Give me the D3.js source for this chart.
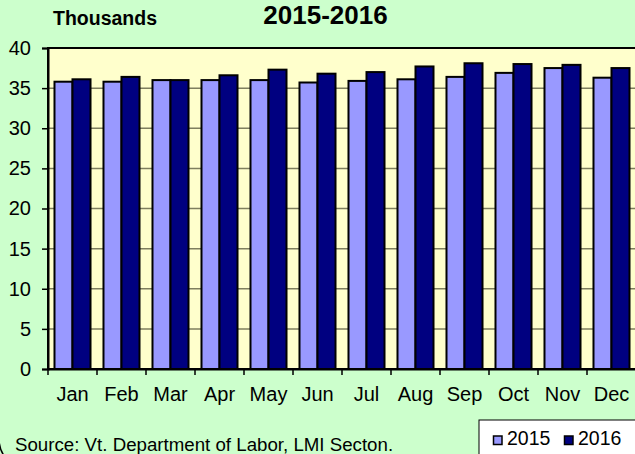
<!DOCTYPE html>
<html>
<head>
<meta charset="utf-8">
<script src="https://cdn.jsdelivr.net/npm/d3@7"></script>
<style>
  body { margin: 0; background: #CCFFCC; }
  svg { display: block; font-family: "Liberation Sans", Arial, sans-serif; }
</style>
</head>
<body>
<div id="chart"></div>
<script>
// data (thousands)
const months = ["Jan", "Feb", "Mar", "Apr", "May", "Jun", "Jul", "Aug", "Sep", "Oct", "Nov", "Dec"];
const years = ["2015", "2016"];
const values2015 = [35.8, 35.8, 36.0, 36.0, 36.0, 35.7, 35.9, 36.1, 36.4, 36.9, 37.5, 36.3];
const values2016 = [36.1, 36.4, 36.0, 36.6, 37.3, 36.8, 37.0, 37.7, 38.1, 38.0, 37.9, 37.5];
const yTicks = [0, 5, 10, 15, 20, 25, 30, 35, 40];
const colors = {"2015": "#9999FF", "2016": "#000080"};

const width = 635, height = 454;
const plot = {left: 48, top: 48, right: 636, bottom: 369};
const fontFamily = "Liberation Sans, Arial, sans-serif";

const svg = d3.select("#chart").append("svg")
    .attr("width", width)
    .attr("height", height);

svg.append("rect")
    .attr("width", width).attr("height", height)
    .attr("fill", "#CCFFCC");

// rounded frame corner peeking in at bottom left
svg.append("rect")
    .attr("x", -1).attr("y", -50)
    .attr("width", width + 50).attr("height", 519)
    .attr("rx", 30)
    .attr("fill", "none")
    .attr("stroke", "#000").attr("stroke-width", 1.5);

const x = d3.scaleBand()
    .domain(months)
    .range([plot.left, plot.right])
    .paddingInner(0.265)
    .paddingOuter(0.1325);

const xSub = d3.scaleBand()
    .domain(years)
    .range([0, x.bandwidth()]);

const y = d3.scaleLinear()
    .domain([0, 40])
    .range([plot.bottom, plot.top]);

// plot background
svg.append("rect")
    .attr("x", plot.left).attr("y", plot.top)
    .attr("width", plot.right - plot.left)
    .attr("height", plot.bottom - plot.top)
    .attr("fill", "#FFFFCC")
    .attr("stroke", "#000")
    .attr("stroke-width", 2);

// gridlines
svg.append("g")
    .selectAll("line")
    .data(yTicks.filter(t => t > 0 && t < 40))
    .join("line")
      .attr("x1", plot.left).attr("x2", plot.right)
      .attr("y1", d => y(d)).attr("y2", d => y(d))
      .attr("stroke", "#7F7F5F")
      .attr("stroke-width", 1.5);

const rows = months.map((m, i) => ({month: m, "2015": values2015[i], "2016": values2016[i]}));

const groups = svg.append("g")
  .selectAll("g")
  .data(rows)
  .join("g")
    .attr("transform", d => `translate(${x(d.month)},0)`);

groups.selectAll("rect")
  .data(d => years.map(k => ({key: k, value: d[k]})))
  .join("rect")
    .attr("x", d => xSub(d.key))
    .attr("y", d => y(d.value))
    .attr("width", xSub.bandwidth())
    .attr("height", d => y(0) - y(d.value))
    .attr("fill", d => colors[d.key])
    .attr("stroke", "#000")
    .attr("stroke-width", 2);

// y axis
const yAxis = svg.append("g")
    .attr("transform", `translate(${plot.left},0)`)
    .call(d3.axisLeft(y).tickValues(yTicks).tickSize(6).tickPadding(11));
yAxis.select(".domain").attr("stroke", "#000").attr("stroke-width", 2);
yAxis.selectAll(".tick line").attr("stroke", "#000").attr("stroke-width", 1.5);
yAxis.selectAll(".tick text")
    .attr("font-size", 20)
    .attr("fill", "#000")
    .attr("font-family", fontFamily);

// x axis
const xAxis = svg.append("g")
    .attr("transform", `translate(0,${plot.bottom})`)
    .call(d3.axisBottom(x).tickSize(0));
xAxis.select(".domain").attr("stroke", "#000").attr("stroke-width", 2);
xAxis.selectAll(".tick text")
    .attr("y", 32)
    .attr("dy", 0)
    .attr("font-size", 20)
    .attr("fill", "#000")
    .attr("font-family", fontFamily);

// tick marks between categories
svg.append("g")
  .selectAll("line")
  .data(months)
  .join("line")
    .attr("x1", d => x(d) - x.step() * x.paddingOuter())
    .attr("x2", d => x(d) - x.step() * x.paddingOuter())
    .attr("y1", plot.bottom).attr("y2", plot.bottom + 6)
    .attr("stroke", "#000").attr("stroke-width", 1.5);

// titles
svg.append("text")
    .attr("x", 53).attr("y", 25)
    .attr("font-size", 19.5).attr("font-weight", "bold")
    .text("Thousands");

svg.append("text")
    .attr("x", 325.5).attr("y", 24)
    .attr("text-anchor", "middle")
    .attr("font-size", 26).attr("font-weight", "bold")
    .text("2015-2016");

svg.append("text")
    .attr("x", 15).attr("y", 451)
    .attr("font-size", 18.7)
    .text("Source: Vt. Department of Labor, LMI Secton.");

// legend
const legend = svg.append("g");
legend.append("rect")
    .attr("x", 479).attr("y", 420)
    .attr("width", 180).attr("height", 50)
    .attr("fill", "#fff")
    .attr("stroke", "#000").attr("stroke-width", 1);

const legendX = {"2015": 493.5, "2016": 564.5};
years.forEach(k => {
  legend.append("rect")
      .attr("x", legendX[k]).attr("y", 436)
      .attr("width", 8.5).attr("height", 8.5)
      .attr("fill", colors[k])
      .attr("stroke", "#000").attr("stroke-width", 1.5);
  legend.append("text")
      .attr("x", legendX[k] + 13.5).attr("y", 445)
      .attr("font-size", 19.5)
      .text(k);
});
</script>
</body>
</html>
